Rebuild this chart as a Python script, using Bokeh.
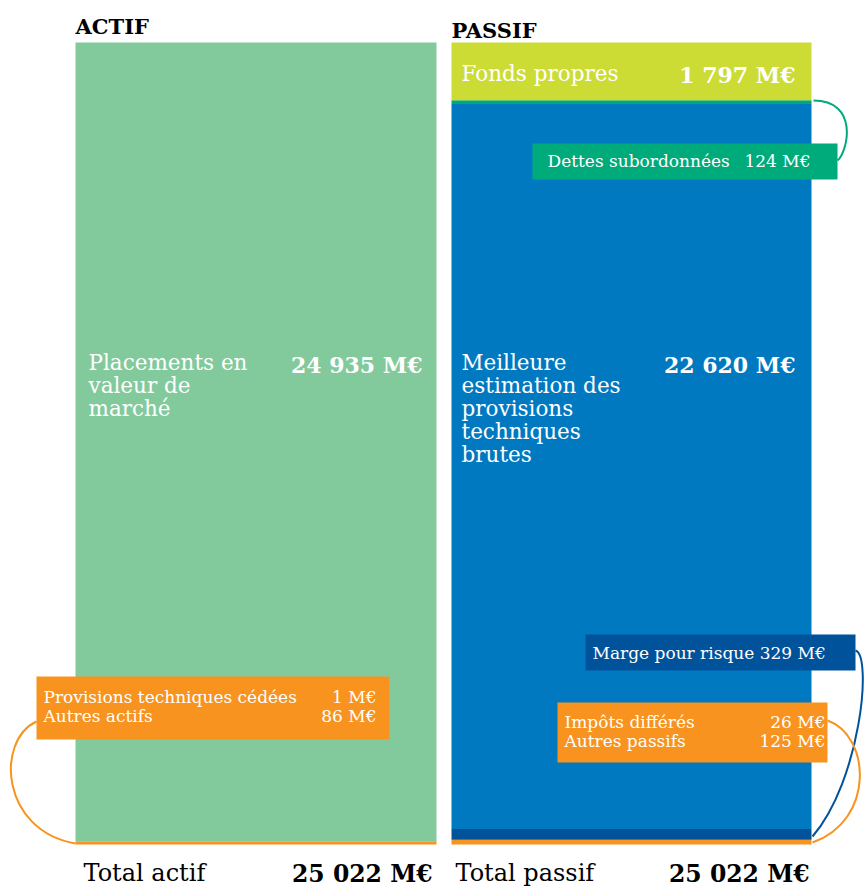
from bokeh.plotting import figure
from bokeh.models import Range1d
from bokeh.core.properties import value
from bokeh.embed import file_html
from bokeh.resources import INLINE

# ---------------- data ----------------
actif_items = ["Autres actifs / Provisions techniques cédées", "Placements en valeur de marché"]
actif_values = [87, 24935]
actif_colors = ["#F7931E", "#82CA9C"]

passif_items = ["Impôts différés / Autres passifs", "Marge pour risque",
                "Meilleure estimation des provisions techniques brutes",
                "Dettes subordonnées", "Fonds propres"]
passif_values = [151, 329, 22620, 124, 1797]
passif_colors = ["#F7931E", "#00529B", "#0079C0", "#00A97B", "#CCDC35"]

actif_detail_labels = ["Provisions techniques cédées", "Autres actifs"]
actif_detail_values = [1, 86]
passif_detail_labels = ["Impôts différés", "Autres passifs"]
passif_detail_values = [26, 125]

total_actif = 25022
total_passif = 25022

def fmt(v):
    return f"{v:,}".replace(",", " ") + " M€"

# ---------------- geometry helpers ----------------
BOT_PX, TOP_PX = 844, 42
K = (BOT_PX - TOP_PX) / total_actif
def Y(py):
    return (BOT_PX - py) / K

W, H = 864, 888
p = figure(width=W, height=H, output_backend="svg", toolbar_location=None,
           x_range=Range1d(0, W), y_range=Range1d(Y(H), Y(0)),
           min_border=0, outline_line_color=None)
p.axis.visible = False
p.grid.visible = False
p.background_fill_color = "white"
p.border_fill_color = "white"

SERIF = value("DejaVu Serif")
AX0, AX1 = 75, 436
PX0, PX1 = 451, 811

def stack(vals):
    bots, tops, acc = [], [], 0
    for v in vals:
        bots.append(acc)
        acc += v
        tops.append(acc)
    return bots, tops

ab, at = stack(actif_values)
p.quad(left=[AX0] * len(ab), right=[AX1] * len(ab), bottom=ab, top=at,
       fill_color=actif_colors, line_color=None)
pb, pt = stack(passif_values)
p.quad(left=[PX0] * len(pb), right=[PX1] * len(pb), bottom=pb, top=pt,
       fill_color=passif_colors, line_color=None)

def txt(x, py, s, size, color="white", align="left", bold=False):
    p.text(x=[x], y=[Y(py)], text=[s], text_font=SERIF, text_font_size=size,
           text_color=color, text_align=align, text_baseline="middle",
           text_font_style="bold" if bold else "normal")

txt(AX0, 26, "ACTIF", "21px", color="black", bold=True)
txt(PX0, 29.5, "PASSIF", "21px", color="black", bold=True)

BODY = "21.5px"
for i, line in enumerate(["Placements en", "valeur de", "marché"]):
    txt(88, 362 + i * 23, line, BODY)
txt(422, 364, fmt(actif_values[1]), "22px", bold=True, align="right")

for i, line in enumerate(["Meilleure", "estimation des", "provisions", "techniques", "brutes"]):
    txt(461, 362 + i * 23, line, BODY)
txt(795, 364, fmt(passif_values[2]), "22px", bold=True, align="right")

txt(461, 73, passif_items[4], BODY)
txt(795, 74, fmt(passif_values[4]), "22px", bold=True, align="right")

def box(x0, x1, py0, py1, color):
    p.quad(left=[x0], right=[x1], bottom=[Y(py1)], top=[Y(py0)],
           fill_color=color, line_color=None)

SMALL = "17px"
box(532, 837, 143, 179, "#00AB7B")
txt(547, 160, passif_items[3], SMALL)
txt(810, 160, fmt(passif_values[3]), SMALL, align="right")
p.bezier(x0=[813], y0=[Y(100)], x1=[837], y1=[Y(160)],
         cx0=[858], cy0=[Y(100)], cx1=[848], cy1=[Y(150)],
         line_color="#00A97B", line_width=2)

box(585, 855, 634, 670, "#00529B")
txt(592, 652, passif_items[1] + " " + fmt(passif_values[1]), SMALL)
p.bezier(x0=[855], y0=[Y(650)], x1=[812], y1=[Y(836)],
         cx0=[872], cy0=[Y(655)], cx1=[860], cy1=[Y(780)],
         line_color="#00529B", line_width=2)

box(557, 827, 702, 762, "#F7931E")
for i, (lab, v) in enumerate(zip(passif_detail_labels, passif_detail_values)):
    txt(564, 721 + i * 19, lab, SMALL)
    txt(825, 721 + i * 19, fmt(v), SMALL, align="right")
p.bezier(x0=[827], y0=[Y(720)], x1=[812], y1=[Y(842)],
         cx0=[870], cy0=[Y(735)], cx1=[875], cy1=[Y(820)],
         line_color="#F7931E", line_width=2)

box(36, 389, 676, 739, "#F7931E")
for i, (lab, v) in enumerate(zip(actif_detail_labels, actif_detail_values)):
    txt(43, 696 + i * 19, lab, SMALL)
    txt(376, 696 + i * 19, fmt(v), SMALL, align="right")
p.bezier(x0=[36], y0=[Y(721)], x1=[75], y1=[Y(843)],
         cx0=[-5], cy0=[Y(740)], cx1=[0], cy1=[Y(830)],
         line_color="#F7931E", line_width=2)

txt(83, 872, "Total actif", "24px", color="black")
txt(432, 873, fmt(total_actif), "23.5px", color="black", bold=True, align="right")
txt(455, 872, "Total passif", "24px", color="black")
txt(809, 873, fmt(total_passif), "23.5px", color="black", bold=True, align="right")

open("out.html", "w").write(file_html(p, INLINE))
